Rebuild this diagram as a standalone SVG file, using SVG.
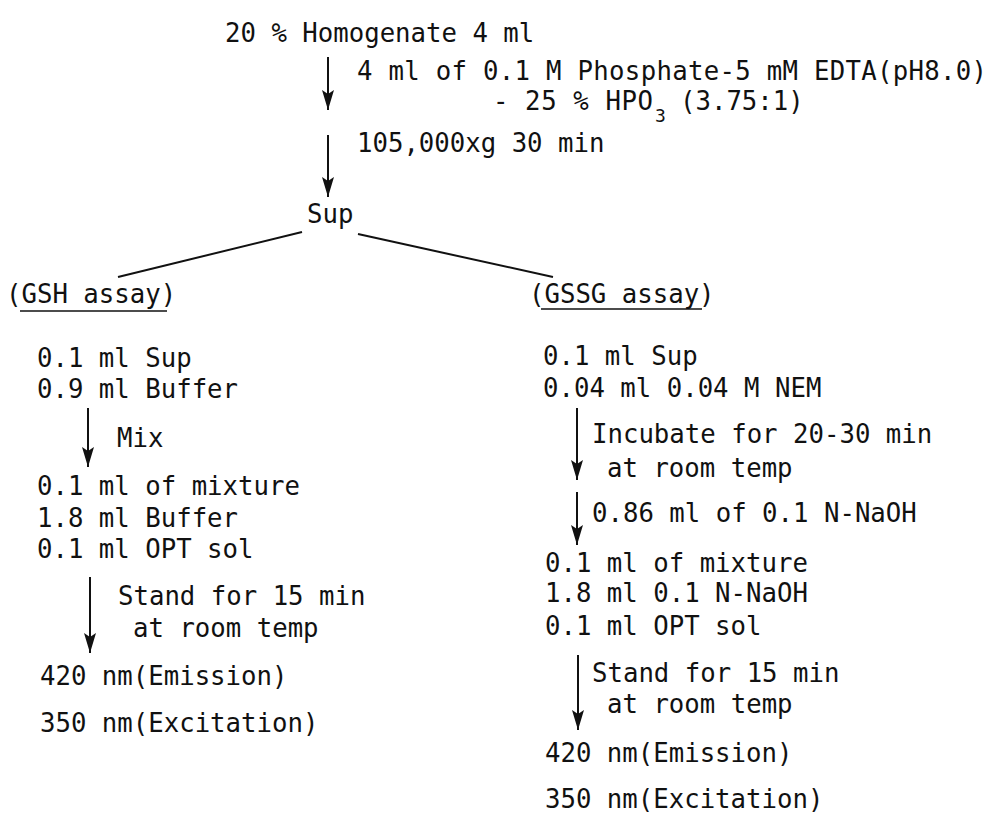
<svg xmlns="http://www.w3.org/2000/svg" width="995" height="814" viewBox="0 0 995 814">
<style>
text{font-family:"DejaVu Sans Mono","Liberation Mono",monospace;font-size:25.7px;fill:#111}
.sub{font-size:18px}
line{stroke:#111;stroke-width:2;fill:none}
.arr{marker-end:url(#ah)}
</style>
<defs>
<marker id="ah" markerUnits="userSpaceOnUse" markerWidth="22" markerHeight="14" viewBox="-20 -7 22 14" refX="0" refY="0" orient="auto">
<path d="M-20,-6 L0,0 L-20,6 L-16,0 z" fill="#111"/>
</marker>
</defs>
<rect width="995" height="814" fill="#fff"/>
<g id="connectors">
<line class="arr" x1="328" y1="57" x2="328" y2="110"/>
<line class="arr" x1="328" y1="135" x2="328" y2="197"/>
<line x1="302" y1="232" x2="118" y2="277"/>
<line x1="358" y1="234" x2="553" y2="277"/>
<line class="arr" x1="88" y1="408" x2="88" y2="467"/>
<line class="arr" x1="90" y1="577" x2="90" y2="653"/>
<line class="arr" x1="577" y1="408" x2="577" y2="480"/>
<line class="arr" x1="577" y1="492" x2="577" y2="545"/>
<line class="arr" x1="578" y1="655" x2="578" y2="730"/>
</g>
<g id="homogenate"><text x="225" y="42">20 % Homogenate 4 ml</text></g>
<g id="step1">
<text x="357" y="80" textLength="630" lengthAdjust="spacing">4 ml of 0.1 M Phosphate-5 mM EDTA(pH8.0)</text>
<text x="493" y="110" textLength="160" lengthAdjust="spacing">- 25 % HPO</text>
<text class="sub" x="655" y="122">3</text>
<text x="680" y="110">(3.75:1)</text>
</g>
<g id="step2"><text x="357" y="152">105,000xg 30 min</text></g>
<g id="sup"><text x="307" y="223">Sup</text></g>
<g id="gsh-title">
<text x="6" y="303">(GSH assay)</text>
<line x1="20" y1="311" x2="167" y2="311" style="stroke-width:1.5"/>
</g>
<g id="gssg-title">
<text x="529" y="303">(GSSG assay)</text>
<line x1="541" y1="309" x2="702" y2="309" style="stroke-width:1.5"/>
</g>
<g id="gsh-mix1">
<text x="37" y="367">0.1 ml Sup</text>
<text x="37" y="398">0.9 ml Buffer</text>
</g>
<g id="gsh-mixlabel"><text x="117" y="447">Mix</text></g>
<g id="gsh-mix2">
<text x="37" y="495">0.1 ml of mixture</text>
<text x="37" y="527">1.8 ml Buffer</text>
<text x="37" y="558">0.1 ml OPT sol</text>
</g>
<g id="gsh-stand">
<text x="118" y="605">Stand for 15 min</text>
<text x="133" y="637">at room temp</text>
</g>
<g id="gsh-result">
<text x="40" y="685">420 nm(Emission)</text>
<text x="40" y="732">350 nm(Excitation)</text>
</g>
<g id="gssg-mix1">
<text x="543" y="365">0.1 ml Sup</text>
<text x="543" y="397">0.04 ml 0.04 M NEM</text>
</g>
<g id="gssg-incubate">
<text x="592" y="443">Incubate for 20-30 min</text>
<text x="607" y="477">at room temp</text>
</g>
<g id="gssg-naoh"><text x="592" y="522">0.86 ml of 0.1 N-NaOH</text></g>
<g id="gssg-mix2">
<text x="545" y="572">0.1 ml of mixture</text>
<text x="545" y="602">1.8 ml 0.1 N-NaOH</text>
<text x="545" y="635">0.1 ml OPT sol</text>
</g>
<g id="gssg-stand">
<text x="592" y="682">Stand for 15 min</text>
<text x="607" y="713">at room temp</text>
</g>
<g id="gssg-result">
<text x="545" y="762">420 nm(Emission)</text>
<text x="545" y="808">350 nm(Excitation)</text>
</g>
</svg>
